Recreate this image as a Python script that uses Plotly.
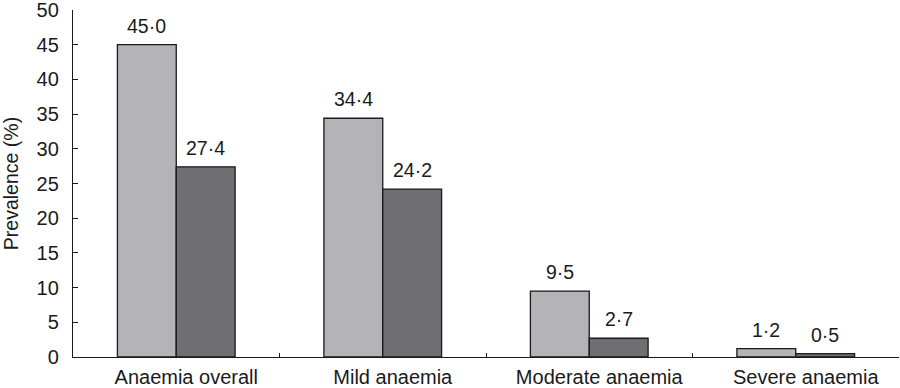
import plotly.graph_objects as go

categories = ["Anaemia overall", "Mild anaemia", "Moderate anaemia", "Severe anaemia"]
series_a = [45.0, 34.4, 9.5, 1.2]
series_b = [27.4, 24.2, 2.7, 0.5]
y_ticks = [0, 5, 10, 15, 20, 25, 30, 35, 40, 45, 50]


def fmt(v):
    return f"{v:.1f}".replace(".", "\u00b7")


fig = go.Figure()
for vals, color in ((series_a, "#b4b4b8"), (series_b, "#6f6f73")):
    fig.add_trace(go.Bar(
        x=categories, y=vals,
        marker=dict(color=color, line=dict(color="#1a1a1a", width=1.3)),
        showlegend=False,
    ))

# value labels above each bar (bars sit at +/- half a bar width from the category centre)
half_bar = (900 - 73 - 1) / len(categories) * (1 - 0.43) / 4
for vals, sign in ((series_a, -1), (series_b, 1)):
    for cat, v in zip(categories, vals):
        fig.add_annotation(
            x=cat, y=v, text=fmt(v), showarrow=False,
            xanchor="center", yanchor="bottom",
            xshift=sign * half_bar, yshift=6,
            font=dict(size=19.5, color="#1a1a1a"),
        )

fig.update_layout(
    width=900, height=388,
    margin=dict(l=73, r=1, t=10, b=31),
    barmode="group", bargap=0.43, bargroupgap=0,
    plot_bgcolor="white", paper_bgcolor="white",
    font=dict(family="Liberation Sans, Arial, sans-serif", size=20, color="#1a1a1a"),
)
fig.update_xaxes(
    showline=True, linecolor="#1a1a1a", linewidth=1.3,
    ticks="inside", tickson="boundaries", ticklen=4, tickcolor="#1a1a1a",
    showgrid=False, tickfont=dict(size=20), automargin=False,
    ticklabelshift=10, ticklabelstandoff=2,
)
fig.update_yaxes(
    range=[0, 50], tickvals=y_ticks,
    showline=True, linecolor="#1a1a1a", linewidth=1.3,
    ticks="inside", ticklen=5, tickcolor="#1a1a1a",
    showgrid=False, zeroline=False, tickfont=dict(size=20), automargin=False,
    ticklabelstandoff=9, ticklabeloverflow="allow",
    title=dict(text="Prevalence (%)", font=dict(size=19.5), standoff=14),
)

fig.write_html(
    "out.html",
    config={"displayModeBar": False},
    post_script="document.body.style.margin='0';document.body.style.overflow='hidden';",
)
